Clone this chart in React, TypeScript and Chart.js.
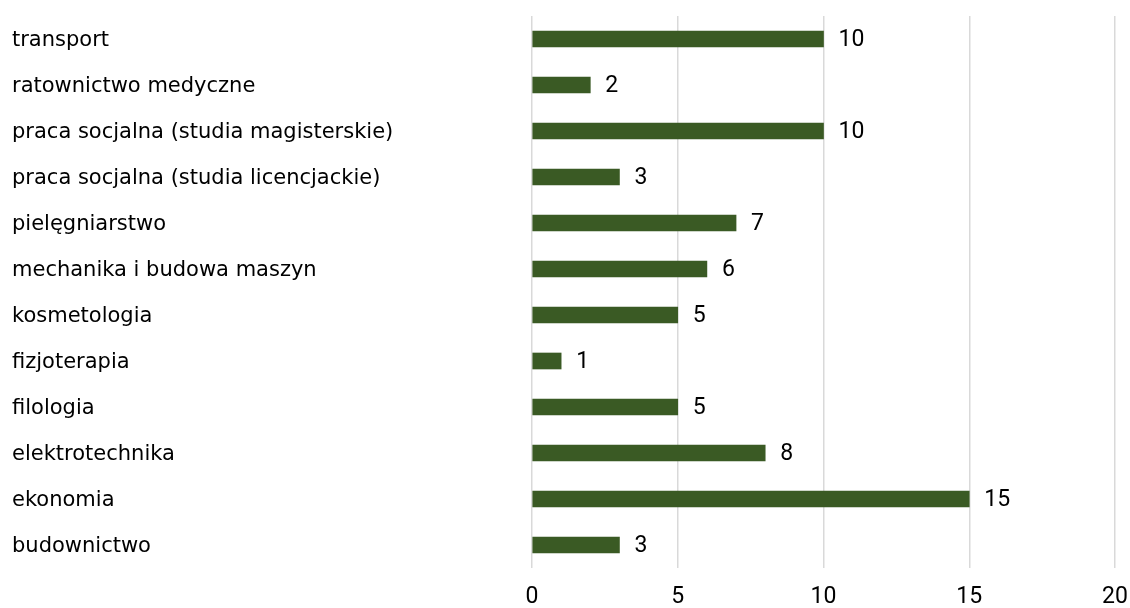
import React, { useEffect, useRef } from "react";
import { Chart, registerables } from "chart.js";

Chart.register(...registerables);

const categories = [
  "transport",
  "ratownictwo medyczne",
  "praca socjalna (studia magisterskie)",
  "praca socjalna (studia licencjackie)",
  "pielęgniarstwo",
  "mechanika i budowa maszyn",
  "kosmetologia",
  "fizjoterapia",
  "filologia",
  "elektrotechnika",
  "ekonomia",
  "budownictwo",
];

const values = [10, 2, 10, 3, 7, 6, 5, 1, 5, 8, 15, 3];

const xMin = 0;
const xMax = 20;
const xStep = 5;

const BAR_COLOR = "#3a5a24";
const LABEL_FONT = "DejaVu Sans";
const NUM_FONT = "Roboto";

const valueLabels = {
  id: "valueLabels",
  afterDatasetsDraw(chart: any) {
    const ctx = chart.ctx;
    const meta = chart.getDatasetMeta(0);
    ctx.save();
    ctx.fillStyle = "#000";
    ctx.font = `23px "${NUM_FONT}"`;
    ctx.textAlign = "left";
    ctx.textBaseline = "middle";
    meta.data.forEach((el: any, i: number) => {
      const v = chart.data.datasets[0].data[i];
      ctx.fillText(String(v), el.x + 15, el.y + 1);
    });
    ctx.restore();
  },
};

export default function App() {
  const ref = useRef<HTMLCanvasElement | null>(null);

  useEffect(() => {
    if (!ref.current) return;
    const chart = new Chart(ref.current, {
      type: "bar",
      data: {
        labels: categories,
        datasets: [
          {
            data: values,
            backgroundColor: BAR_COLOR,
            barThickness: 16,
          },
        ],
      },
      options: {
        indexAxis: "y",
        animation: false,
        responsive: true,
        maintainAspectRatio: false,
        layout: { autoPadding: false, padding: { left: 12, top: 16, right: 15, bottom: 0 } },
        plugins: {
          legend: { display: false },
          tooltip: { enabled: false },
        },
        scales: {
          x: {
            min: xMin,
            max: xMax,
            afterFit: (scale: any) => {
              scale.height = 40;
              scale.paddingLeft = 0;
              scale.paddingRight = 0;
            },
            ticks: {
              stepSize: xStep,
              color: "#000",
              font: { family: NUM_FONT, size: 23 },
              padding: 15,
              maxRotation: 0,
            },
            grid: { color: "#d9d9d9", lineWidth: 1.5, drawTicks: false },
            border: { display: false },
          },
          y: {
            afterFit: (scale: any) => {
              scale.width = 520;
              scale.paddingTop = 0;
              scale.paddingBottom = 0;
            },
            ticks: {
              crossAlign: "far",
              color: "#000",
              labelOffset: 2,
              font: { family: LABEL_FONT, size: 21 },
            },
            grid: { display: false, drawTicks: false },
            border: { display: false },
          },
        },
      },
      plugins: [valueLabels],
    });
    return () => chart.destroy();
  }, []);

  return (
    <div style={{ position: "fixed", left: 0, top: 0, width: 1130, height: 608, background: "#fff" }}>
      <canvas ref={ref} />
    </div>
  );
}
